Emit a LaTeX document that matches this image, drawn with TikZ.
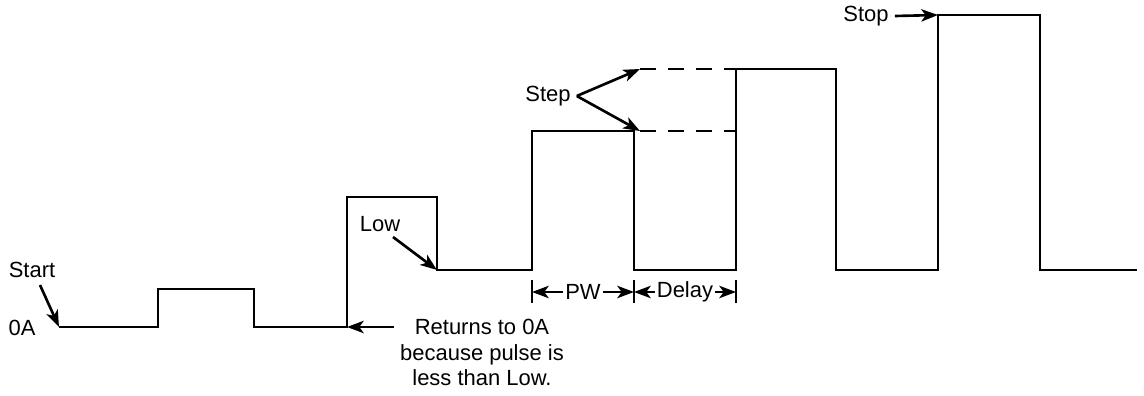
\documentclass[tikz,border=0pt]{standalone}
\usepackage{fontspec}
\setmainfont{Liberation Sans}
\usetikzlibrary{arrows.meta}
\tikzset{
  wave/.style={line width=1.7pt, line join=miter},
  ptr/.style={-{Stealth[length=9.5pt,width=7pt,inset=2.5pt]}, line width=1.5pt},
  lbl/.style={font=\fontsize{12.5}{14.5}\selectfont},
}
\begin{document}
\begin{tikzpicture}[x=0.02cm, y=-0.02cm]
        \useasboundingbox (0,0) rectangle (1144,396);
        % staircase of pulses
        \draw[wave] (59,327) coordinate (s0) -- (158,327) -- (158,289) -- (254,289) -- (254,327)
            -- (347,327) coordinate (r3) -- (347,197) -- (437,197) -- (437,270) coordinate (low3)
            -- (532,270) -- (532,131) -- (634,131) coordinate (top4) -- (634,270)
            -- (736,270) -- (736,69) coordinate (top5) -- (836,69) -- (836,270)
            -- (938,270) -- (938,15) coordinate (top6) -- (1040,15) -- (1040,270) -- (1137,270);

        % step levels
        \draw[line width=1pt, dash pattern=on 9pt off 7pt] (640,69) coordinate (d1) -- (top5);
        \draw[line width=1pt, dash pattern=on 9pt off 7pt] (640,131) coordinate (d2) -- (top4 -| top5);

        % labels
        \node[lbl] (start) at (32,270) {Start};
        \node[lbl] (zero) at (22,328) {0A};
        \node[lbl] (low) at (380,224) {Low};
        \node[lbl] (step) at (548,96) {Step};
        \node[lbl] (stop) at (866,16) {Stop};
        \node[lbl, align=center, anchor=north, inner sep=0pt] (ret) at (482,319)
            {Returns to 0A\\because pulse is\\less than Low.};
        \coordinate (retTail) at (394,327);
        \coordinate (startTail) at (40,285);
        \coordinate (lowTail) at (393,237);

        \draw[ptr] (startTail) -- (s0);
        \draw[ptr] (lowTail) -- (low3);
        \draw[ptr] (retTail) -- (r3);
        \draw[ptr] (step.east) -- (d1);
        \draw[ptr] (step.east) -- (d2);
        \draw[ptr] (stop.east) -- (top6);

        % pulse width and delay
        \foreach \x in {532,634,736}
            \draw[line width=1pt] (\x,280) -- (\x,303);
        \coordinate (pwL) at (532,292);
        \coordinate (pwR) at (634,292);
        \coordinate (dlR) at (736,292);
        \node[lbl, inner sep=1pt] (pw) at (583,292) {PW};
        \node[lbl, inner sep=1pt] (delay) at (685,292) {Delay};
        \draw[ptr] (pw.west) -- (pwL);
        \draw[ptr] (pw.east) -- (pwR);
        \draw[ptr] (delay.west) -- (pwR);
        \draw[ptr] (delay.east) -- (dlR);
\end{tikzpicture}
\end{document}
